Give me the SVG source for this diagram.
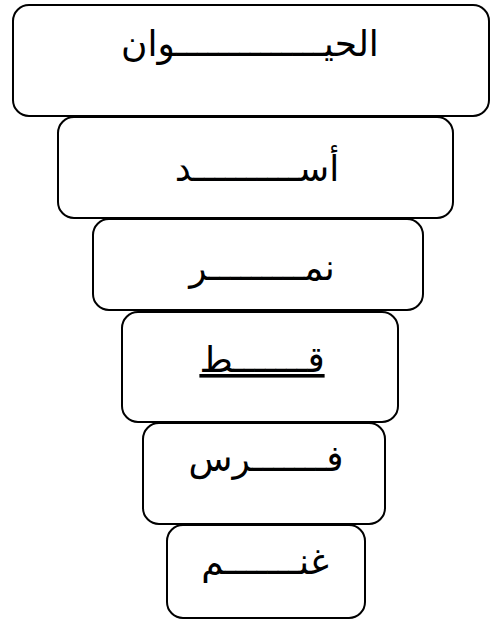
<svg xmlns="http://www.w3.org/2000/svg" width="497" height="621" viewBox="0 0 497 621">
<style>
.box{fill:#fff;stroke:#000;stroke-width:2}
.t{font-family:"DejaVu Sans",sans-serif;font-size:36px;fill:#000;text-anchor:middle}
</style>
<rect width="497" height="621" fill="#fff"/>
<g id="n1"><rect class="box" x="13" y="5" width="476" height="111" rx="16"/><text class="t" x="250" y="56">الحيــــــــــــــوان</text></g>
<g id="n2"><rect class="box" x="58" y="117" width="395" height="101" rx="16"/><text class="t" x="257" y="181">أســــــــــد</text></g>
<g id="n3"><rect class="box" x="93" y="219" width="330" height="91" rx="16"/><text class="t" x="262" y="280">نمـــــــــر</text></g>
<g id="n4"><rect class="box" x="122" y="312" width="276" height="110" rx="16"/><text class="t" x="262" y="372" text-decoration="underline">قـــــــط</text></g>
<g id="n5"><rect class="box" x="143" y="423" width="242" height="101" rx="16"/><text class="t" x="266" y="471">فـــــــرس</text></g>
<g id="n6"><rect class="box" x="167" y="525" width="198" height="93" rx="16"/><text class="t" x="265" y="574">غنـــــــم</text></g>
<g id="connectors"></g>
</svg>
